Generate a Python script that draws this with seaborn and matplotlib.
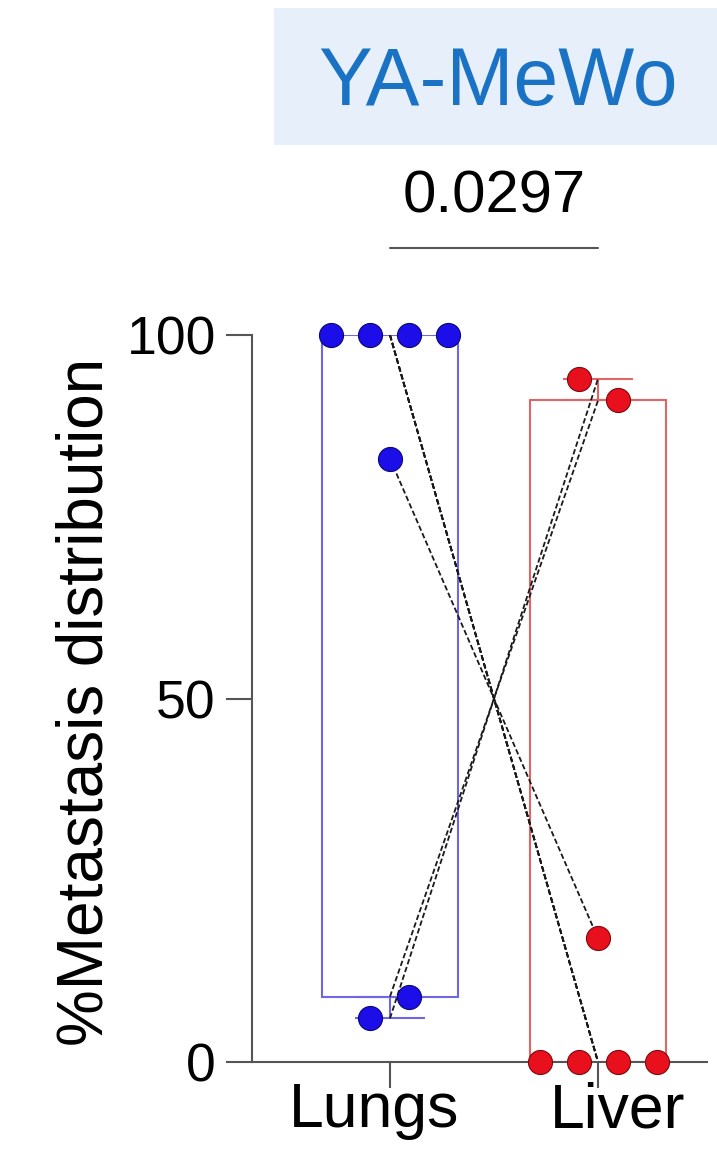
import numpy as np
import pandas as pd
import seaborn as sns
import matplotlib.pyplot as plt
from matplotlib.patches import Rectangle
from matplotlib.transforms import ScaledTranslation

# paired values per mouse (lungs + liver = 100)
sites = ['Lungs', 'Liver']
lungs = [100, 100, 100, 100, 83, 6, 9]
liver = [0, 0, 0, 0, 17, 94, 91]
box_low = [9, 0]
box_high = [100, 91]
whisker_end = [6, 94]
p_value = '0.0297'
title = 'YA-MeWo'

edge_colors = ['#6d66e6', '#e06666']
dot_colors = ['#1c0ee8', '#e8101c']
dot_edges = ['#0c0870', '#7a0a10']


def spread_offsets(values, spacing=0.1875, tol=4):
    """Spread points that sit at about the same height side by side."""
    offsets = np.zeros(len(values))
    done = set()
    for i, v in enumerate(values):
        if i in done:
            continue
        group = [j for j, w in enumerate(values) if j not in done and abs(w - v) < tol]
        n = len(group)
        for k, j in enumerate(group):
            offsets[j] = (k - (n - 1) / 2) * spacing
            done.add(j)
    return offsets


rows = []
for pos, vals in enumerate([lungs, liver]):
    offs = spread_offsets(vals)
    for m, (v, o) in enumerate(zip(vals, offs)):
        rows.append({'mouse': m, 'site': sites[pos], 'pos': pos, 'x': pos + o, 'value': v})
df = pd.DataFrame(rows)

sns.set_style('ticks')
plt.rcParams['font.family'] = ['Liberation Sans', 'DejaVu Sans']
plt.rcParams['text.color'] = 'black'
plt.rcParams['xtick.labelcolor'] = 'black'
plt.rcParams['ytick.labelcolor'] = 'black'
plt.rcParams['axes.labelcolor'] = 'black'

fig = plt.figure(figsize=(7.17, 11.76), dpi=100)
ax = fig.add_axes([0.3515, 0.0969, 0.6346, 0.6182])

# floating boxes
ax.bar(range(len(sites)), np.array(box_high) - np.array(box_low), bottom=box_low,
       width=0.657, fill=False, edgecolor=edge_colors, linewidth=1.5, zorder=1)

# whiskers
for i in range(len(sites)):
    edge = box_low[i] if whisker_end[i] < box_low[i] else box_high[i]
    lo = max(edge - whisker_end[i], 0)
    hi = max(whisker_end[i] - edge, 0)
    ax.errorbar(i, edge, yerr=[[lo], [hi]], fmt='none', ecolor=edge_colors[i],
                elinewidth=1.5, capsize=25, capthick=1.5, zorder=1, clip_on=False)

# pairing lines
sns.lineplot(data=df, x='pos', y='value', units='mouse', estimator=None, ax=ax,
             color='#1a1a1a', linewidth=1.3, linestyle=(0, (3, 1.5)), zorder=2,
             legend=False)

# dots
for i, s in enumerate(sites):
    sub = df[df['site'] == s]
    sns.scatterplot(data=sub, x='x', y='value', ax=ax, s=300, color=dot_colors[i],
                    edgecolor=dot_edges[i], linewidth=0.8, zorder=3, clip_on=False,
                    legend=False)

ax.set_xlim(-0.663, 1.524)
ax.set_ylim(0, 100)
ax.set_xticks(range(len(sites)))
ax.set_xticklabels(sites)
ax.set_yticks([0, 50, 100])
ax.tick_params(axis='y', labelsize=38.5, length=19, width=1.5, pad=7, color='#555555')
ax.tick_params(axis='x', labelsize=45, length=19, width=1.5, pad=-5, color='#555555')
for side in ['left', 'bottom']:
    ax.spines[side].set_color('#555555')
    ax.spines[side].set_linewidth(1.5)
sns.despine(ax=ax)

# the category labels sit a little off their ticks in the original
for lab, dx in zip(ax.get_xticklabels(), [-0.16, 0.195]):
    lab.set_transform(lab.get_transform() + ScaledTranslation(dx, 0, fig.dpi_scale_trans))

ax.set_xlabel('')
ax.set_ylabel('%Metastasis distribution', fontsize=46)
ax.yaxis.set_label_coords(-0.301, 0.495)

# significance bar
ax.plot([0, 1], [112, 112], color='#555555', linewidth=1.5, clip_on=False)
ax.text(0.5, 116.8, p_value, ha='center', va='baseline', fontsize=43, clip_on=False)

# title banner
fig.patches.append(Rectangle((0.382, 0.8767), 0.618, 0.1165, transform=fig.transFigure,
                             facecolor='#e7f0fa', edgecolor='none', zorder=0))
fig.text(0.6946, 0.9107, title, ha='center', va='baseline', fontsize=58, color='#1a72c4')

fig.savefig('out.png', dpi=100)
